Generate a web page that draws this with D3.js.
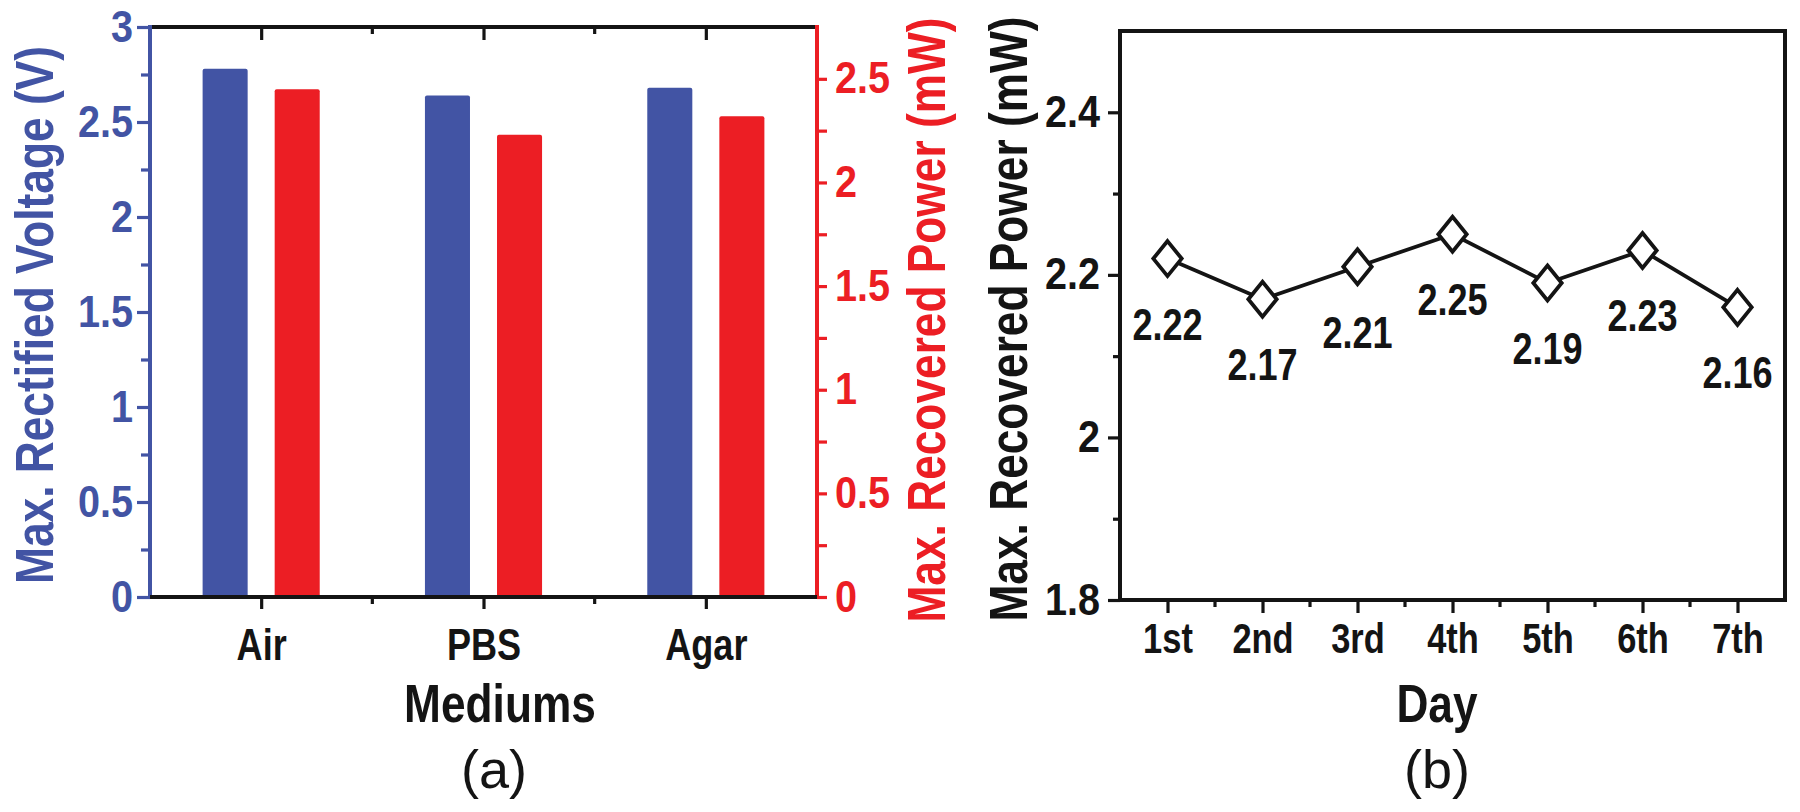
<!DOCTYPE html>
<html><head><meta charset="utf-8">
<script src="https://cdn.jsdelivr.net/npm/d3@7"></script>
<style>
body{margin:0;background:#fff}
svg{display:block;background:#fff}
.b{font-family:"Liberation Sans",Arial,sans-serif;font-weight:bold}
.r{font-family:"Liberation Sans",Arial,sans-serif;font-weight:normal}
</style></head><body>
<svg id="c" width="1800" height="812"></svg>
<script>
// ---------- data ----------
const mediums = ["Air", "PBS", "Agar"];
const voltage = [2.78, 2.64, 2.68];
const powerA = [2.45, 2.23, 2.32];
const voltTicks = [0, 0.5, 1, 1.5, 2, 2.5, 3];
const voltMinor = [0.25, 0.75, 1.25, 1.75, 2.25, 2.75];
const powerTicks = [0, 0.5, 1, 1.5, 2, 2.5];
const powerMinor = [0.25, 0.75, 1.25, 1.75, 2.25];
const days = ["1st", "2nd", "3rd", "4th", "5th", "6th", "7th"];
const powerB = [2.22, 2.17, 2.21, 2.25, 2.19, 2.23, 2.16];
const powerBTicks = [1.8, 2, 2.2, 2.4];
const powerBMinor = [1.9, 2.1, 2.3];

const BLUE = "#4254a4", RED = "#ec1e24", INK = "#141414";
const SX = 0.82, SXT = 0.9;
const svg = d3.select("#c");
const fmt = d3.format("");

// condense text horizontally (narrow bold look)
function squeeze(sel, sx) {
  sel.each(function () {
    const t = d3.select(this);
    const x = +t.attr("x") || 0, y = +t.attr("y") || 0;
    t.attr("x", 0).attr("y", 0).attr("transform", `translate(${x},${y}) scale(${sx},1)`);
  });
}
function styleAxis(g, color, fs, sx) {
  g.select(".domain").remove();
  g.selectAll(".tick line").attr("stroke", color).attr("stroke-width", 3.2);
  g.selectAll(".tick text").attr("fill", color).attr("class", "b").attr("font-size", fs);
  if (sx) squeeze(g.selectAll(".tick text"), sx);
}

// ---------- chart (a) ----------
const A = {l: 150, r: 817, t: 27, b: 597};
const xA = d3.scaleBand().domain(mediums).range([A.l, A.r]);
const xSub = d3.scaleBand().domain(["v", "p"]).range([0, xA.bandwidth()]).paddingInner(0.375).paddingOuter(0.73);
const yV = d3.scaleLinear().domain([0, 3]).range([A.b, A.t]);
const yP = d3.scaleLinear().domain([0, 2.75]).range([A.b, A.t]);

const ga = svg.append("g");
const rowsA = mediums.map((m, i) => ({m, v: voltage[i], p: powerA[i]}));
ga.selectAll("rect.v").data(rowsA).join("rect")
  .attr("x", d => xA(d.m) + xSub("v")).attr("width", xSub.bandwidth())
  .attr("y", d => yV(d.v)).attr("height", d => A.b - yV(d.v))
  .attr("rx", 2).attr("fill", BLUE);
ga.selectAll("rect.p").data(rowsA).join("rect")
  .attr("x", d => xA(d.m) + xSub("p")).attr("width", xSub.bandwidth())
  .attr("y", d => yP(d.p)).attr("height", d => A.b - yP(d.p))
  .attr("rx", 2).attr("fill", RED);

// left axis (voltage)
ga.append("g").attr("transform", `translate(${A.l},0)`)
  .call(d3.axisLeft(yV).tickValues(voltTicks).tickSize(13).tickPadding(4).tickFormat(fmt))
  .call(g => styleAxis(g, BLUE, 44, SXT));
ga.append("g").attr("transform", `translate(${A.l},0)`)
  .call(d3.axisLeft(yV).tickValues(voltMinor).tickSize(9).tickFormat(""))
  .call(g => styleAxis(g, BLUE, 44));
// right axis (power)
ga.append("g").attr("transform", `translate(${A.r},0)`)
  .call(d3.axisRight(yP).tickValues(powerTicks).tickSize(10).tickPadding(8).tickFormat(fmt))
  .call(g => styleAxis(g, RED, 44, SXT));
ga.append("g").attr("transform", `translate(${A.r},0)`)
  .call(d3.axisRight(yP).tickValues(powerMinor).tickSize(10).tickFormat(""))
  .call(g => styleAxis(g, RED, 44));
// bottom axis
const xAc = d3.scalePoint().domain(mediums).range([A.l, A.r]).padding(0.5);
ga.append("g").attr("transform", `translate(0,${A.b})`)
  .call(d3.axisBottom(xAc).tickSize(12).tickFormat(d => d))
  .call(g => { g.selectAll(".tick text").attr("y", 63).attr("dy", 0); styleAxis(g, INK, 44, SX); });
const bnd = mediums.slice(1).map(m => xA(m));
ga.append("g").selectAll("line").data(bnd).join("line")
  .attr("x1", d => d).attr("x2", d => d).attr("y1", A.b).attr("y2", A.b + 7)
  .attr("stroke", INK).attr("stroke-width", 3.2);
// top axis (ticks inward)
ga.append("g").attr("transform", `translate(0,${A.t})`)
  .call(d3.axisTop(xAc).tickSize(-13).tickFormat(""))
  .call(g => styleAxis(g, INK, 44));
ga.append("g").selectAll("line").data(bnd).join("line")
  .attr("x1", d => d).attr("x2", d => d).attr("y1", A.t).attr("y2", A.t + 7)
  .attr("stroke", INK).attr("stroke-width", 3.2);
// frame lines
ga.append("line").attr("x1", A.l).attr("x2", A.r).attr("y1", A.t).attr("y2", A.t).attr("stroke", INK).attr("stroke-width", 4);
ga.append("line").attr("x1", A.l).attr("x2", A.l).attr("y1", A.t - 2).attr("y2", A.b + 2).attr("stroke", BLUE).attr("stroke-width", 4);
ga.append("line").attr("x1", A.r).attr("x2", A.r).attr("y1", A.t - 2).attr("y2", A.b + 2).attr("stroke", RED).attr("stroke-width", 4);
ga.append("line").attr("x1", A.l).attr("x2", A.r).attr("y1", A.b).attr("y2", A.b).attr("stroke", INK).attr("stroke-width", 4);
// titles
ga.append("text").attr("class", "b").attr("font-size", 54).attr("fill", BLUE)
  .attr("text-anchor", "middle").attr("transform", `translate(53,315) rotate(-90) scale(${SX},1)`)
  .text("Max. Rectified Voltage (V)");
ga.append("text").attr("class", "b").attr("font-size", 54).attr("fill", RED)
  .attr("text-anchor", "middle").attr("transform", `translate(945,320) rotate(-90) scale(${SX},1)`)
  .text("Max. Recovered Power (mW)");
ga.append("text").attr("class", "b").attr("font-size", 54).attr("fill", INK)
  .attr("text-anchor", "middle").attr("transform", `translate(500,722) scale(${SX},1)`).text("Mediums");
ga.append("text").attr("class", "r").attr("font-size", 54).attr("fill", INK)
  .attr("text-anchor", "middle").attr("x", 494).attr("y", 788).text("(a)");

// ---------- chart (b) ----------
const B = {l: 1120, r: 1785, t: 31, b: 600};
const xB = d3.scalePoint().domain(days).range([B.l, B.r]).padding(0.5);
const yB = d3.scaleLinear().domain([1.8, 2.5]).range([B.b, B.t]);
const gb = svg.append("g");
const rowsB = days.map((d, i) => ({d, v: powerB[i]}));

gb.append("g").attr("transform", `translate(${B.l},0)`)
  .call(d3.axisLeft(yB).tickValues(powerBTicks).tickSize(12).tickPadding(8).tickFormat(fmt))
  .call(g => styleAxis(g, INK, 44, SXT));
gb.append("g").attr("transform", `translate(${B.l},0)`)
  .call(d3.axisLeft(yB).tickValues(powerBMinor).tickSize(7).tickFormat(""))
  .call(g => styleAxis(g, INK, 44));
gb.append("g").attr("transform", `translate(0,${B.b})`)
  .call(d3.axisBottom(xB).tickSize(13).tickFormat(d => d))
  .call(g => { g.selectAll(".tick text").attr("y", 53).attr("dy", 0); styleAxis(g, INK, 42, SX); });
const midB = days.slice(0, -1).map(d => xB(d) + xB.step() / 2);
gb.append("g").selectAll("line").data(midB).join("line")
  .attr("x1", d => d).attr("x2", d => d).attr("y1", B.b).attr("y2", B.b + 7)
  .attr("stroke", INK).attr("stroke-width", 3.2);
gb.append("rect").attr("x", B.l).attr("y", B.t).attr("width", B.r - B.l).attr("height", B.b - B.t)
  .attr("fill", "none").attr("stroke", INK).attr("stroke-width", 4);

gb.append("path").datum(rowsB)
  .attr("d", d3.line().x(d => xB(d.d)).y(d => yB(d.v)))
  .attr("fill", "none").attr("stroke", INK).attr("stroke-width", 3.8);
const diamond = {
  draw(ctx, size) {
    const h = Math.sqrt(size) / 2, w = h * 0.81;
    ctx.moveTo(0, -h); ctx.lineTo(w, 0); ctx.lineTo(0, h); ctx.lineTo(-w, 0); ctx.closePath();
  }
};
gb.selectAll("path.m").data(rowsB).join("path")
  .attr("transform", d => `translate(${xB(d.d)},${yB(d.v)})`)
  .attr("d", d3.symbol(diamond, 1225))
  .attr("fill", "#fff").attr("stroke", INK).attr("stroke-width", 3.8).attr("stroke-linejoin", "miter");
gb.selectAll("text.lab").data(rowsB).join("text")
  .attr("class", "b").attr("font-size", 44).attr("fill", INK).attr("text-anchor", "middle")
  .attr("x", d => xB(d.d)).attr("y", d => yB(d.v) + 81).text(d => d.v.toFixed(2))
  .call(s => squeeze(s, SX));

gb.append("text").attr("class", "b").attr("font-size", 54).attr("fill", INK)
  .attr("text-anchor", "middle").attr("transform", `translate(1027,319) rotate(-90) scale(${SX},1)`)
  .text("Max. Recovered Power (mW)");
gb.append("text").attr("class", "b").attr("font-size", 54).attr("fill", INK)
  .attr("text-anchor", "middle").attr("transform", `translate(1437,722) scale(${SX},1)`).text("Day");
gb.append("text").attr("class", "r").attr("font-size", 54).attr("fill", INK)
  .attr("text-anchor", "middle").attr("x", 1437).attr("y", 788).text("(b)");
</script>
</body></html>
